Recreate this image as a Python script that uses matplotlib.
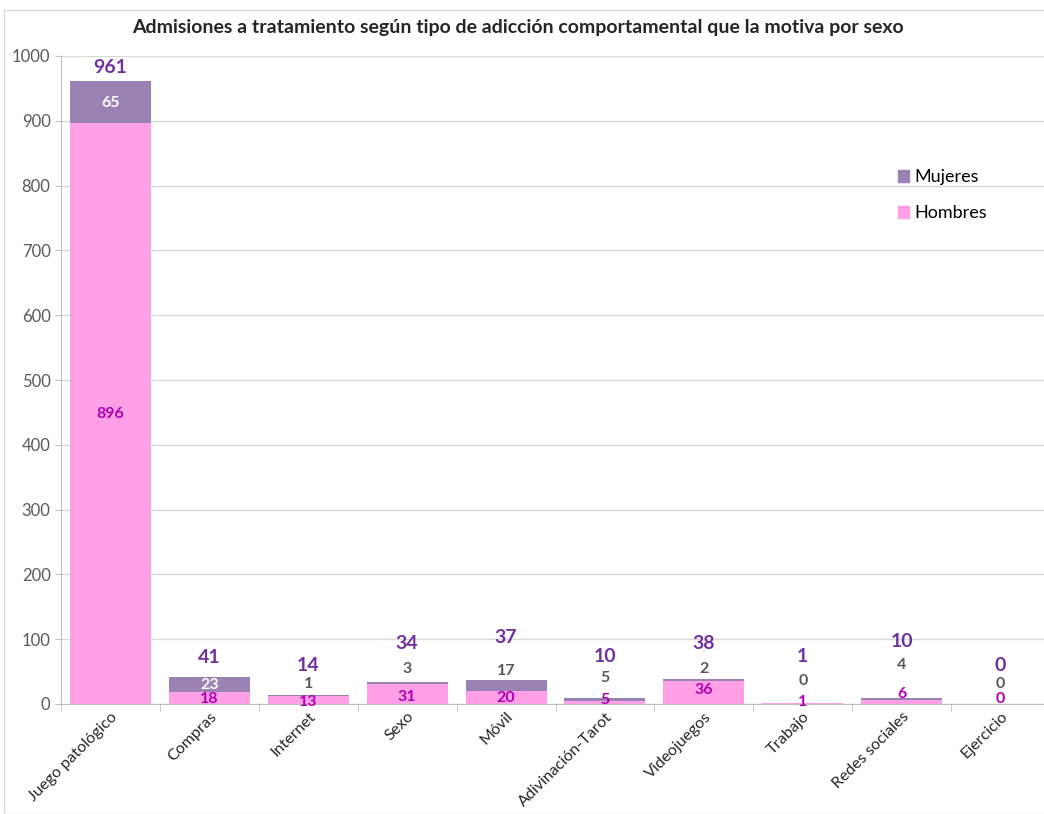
import numpy as np
import matplotlib.pyplot as plt
from matplotlib.patches import Rectangle, Patch

plt.rcParams['font.family'] = ['Lato', 'DejaVu Sans']

categorias = ["Juego patológico", "Compras", "Internet", "Sexo", "Móvil",
              "Adivinación-Tarot", "Videojuegos", "Trabajo", "Redes sociales", "Ejercicio"]
hombres = [896, 18, 13, 31, 20, 5, 36, 1, 6, 0]
mujeres = [65, 23, 1, 3, 17, 5, 2, 0, 4, 0]
totales = [961, 41, 14, 34, 37, 10, 38, 1, 10, 0]

# label heights (layout, in data units) copied from the original placement
y_lbl_tot = [983, 71, 59, 93, 103, 74, 94, 74, 97, 59]
y_lbl_muj = [927, 30, 31, 54, 51, 40, 54, 35, 60, 31]
y_lbl_hom = [447, 8, 3, 11, 9, 6, 22, 3, 15, 7]

c_muj = "#9A82B5"
c_hom = "#FF9FE5"

fig = plt.figure(figsize=(10.44, 8.14), dpi=100)
fig.patches.append(Rectangle((4/1044, 0), 1, 1 - 10/814, transform=fig.transFigure,
                             fill=False, edgecolor="#D9D9D9", linewidth=1))
ax = fig.add_axes([61/1044, 1 - 704/814, 989/1044, (704 - 56)/814])

x = np.arange(len(categorias))
ax.bar(x, hombres, width=0.82, color=c_hom, zorder=2)
ax.bar(x, mujeres, width=0.82, bottom=hombres, color=c_muj, zorder=2)

for i in range(len(categorias)):
    ax.text(x[i], y_lbl_tot[i], str(totales[i]), ha="center", va="center",
            fontsize=14, fontweight="bold", color="#7030A0", zorder=3)
    col = "white" if i < 2 else "#595959"
    ax.text(x[i], y_lbl_muj[i], str(mujeres[i]), ha="center", va="center",
            fontsize=11.5, fontweight="bold", color=col, zorder=3)
    ax.text(x[i], y_lbl_hom[i], str(hombres[i]), ha="center", va="center",
            fontsize=11.5, fontweight="bold", color="#B000B0", zorder=3)

ax.set_xlim(-0.5, 9.5)
ax.set_ylim(0, 1000)
ax.set_yticks(np.arange(0, 1001, 100))
ax.tick_params(axis="y", colors="#595959", labelsize=12, length=4, width=0.8)
ax.tick_params(axis="y", which="both", color="#BFBFBF")
ax.yaxis.grid(True, color="#D9D9D9", linewidth=1)
ax.set_axisbelow(True)

ax.set_xticks(x)
ax.set_xticklabels(categorias, rotation=45, ha="right", rotation_mode="anchor",
                   fontsize=11.5, color="#262626")
ax.tick_params(axis="x", which="major", length=0, pad=4)
ax.set_xticks(np.arange(-0.5, 10, 1), minor=True)
ax.tick_params(axis="x", which="minor", length=5, color="#BFBFBF")

for s in ["top", "right"]:
    ax.spines[s].set_visible(False)
ax.spines["left"].set_color("#BFBFBF")
ax.spines["bottom"].set_color("#BFBFBF")

handles = [Patch(color=c_muj, label="Mujeres"), Patch(color=c_hom, label="Hombres")]
ax.legend(handles=handles, loc="upper left", bbox_to_anchor=(0.83, 0.85),
          frameon=False, fontsize=13, handlelength=0.6, handleheight=0.6,
          handletextpad=0.3, labelspacing=1.1)

fig.text(0.496, 1 - 28/814, "Admisiones a tratamiento según tipo de adicción comportamental que la motiva por sexo",
         ha="center", va="center", fontsize=14, fontweight="bold", color="#262626")

fig.savefig("out.png", dpi=100)
